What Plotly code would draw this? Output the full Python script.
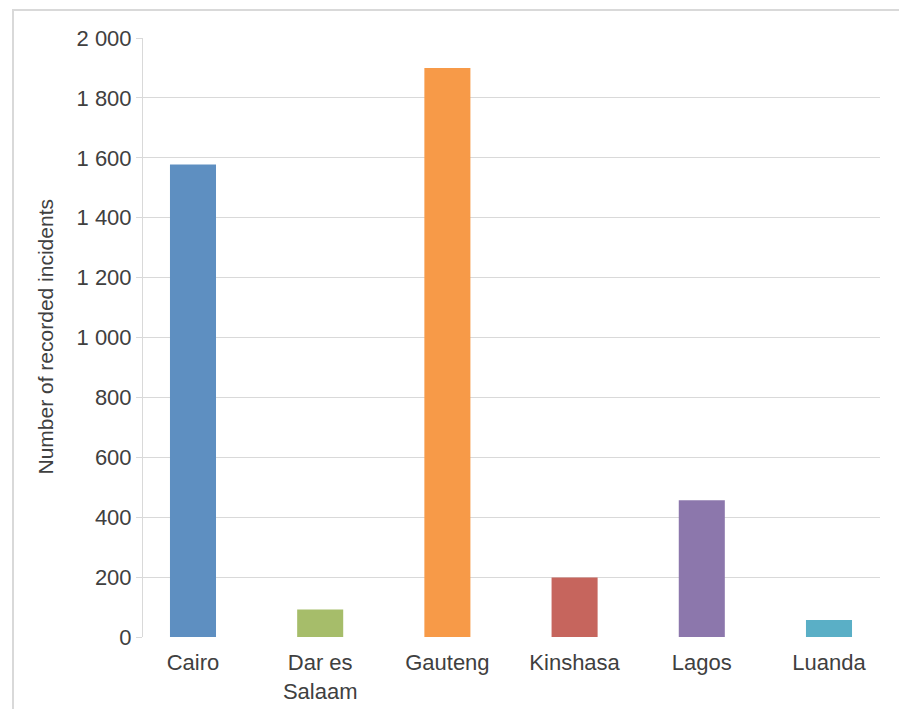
import plotly.graph_objects as go

categories = ["Cairo", "Dar es<br>Salaam", "Gauteng", "Kinshasa", "Lagos", "Luanda"]
incidents = [1578, 92, 1900, 199, 457, 57]
bar_colors = ["#5E8FC1", "#A6BD6A", "#F79A48", "#C6655D", "#8C77AC", "#5AAFC6"]
y_tick_vals = [0, 200, 400, 600, 800, 1000, 1200, 1400, 1600, 1800, 2000]
y_tick_text = ["0", "200", "400", "600", "800", "1 000", "1 200", "1 400", "1 600", "1 800", "2 000"]
y_title = "Number of recorded incidents"

# page body has an 8px margin; size the figure to fill the rest of the window
W, H = 899, 701
L, R, T, B = 135, 27, 30, 72
pw, ph = W - L - R, H - T - B

fig = go.Figure()
fig.add_trace(go.Bar(
    x=list(range(len(categories))),
    y=incidents,
    marker=dict(color=bar_colors, line=dict(width=0)),
    width=0.362,
    hoverinfo="skip",
))

font_family = "Liberation Sans, Arial, sans-serif"
fig.update_layout(
    width=W, height=H,
    margin=dict(l=L, r=R, t=T, b=B, autoexpand=False),
    paper_bgcolor="white", plot_bgcolor="white",
    showlegend=False,
    font=dict(family=font_family, color="#404040"),
    xaxis=dict(
        range=[-0.393, 5.401],
        tickvals=list(range(len(categories))),
        ticktext=categories,
        showgrid=False, zeroline=False, showline=False,
        ticks="", ticklabelstandoff=10, automargin=False,
        tickfont=dict(size=22, color="#404040"),
        fixedrange=True,
    ),
    yaxis=dict(
        range=[0, 2000],
        tickvals=y_tick_vals, ticktext=y_tick_text,
        showgrid=True, gridcolor="#D9D9D9", gridwidth=1,
        zeroline=False, automargin=False,
        showline=True, linecolor="#D9D9D9", linewidth=1,
        ticks="outside", ticklen=6, tickcolor="#D9D9D9",
        tickfont=dict(size=22, color="#404040"),
        fixedrange=True,
    ),
)

fig.add_annotation(
    text=y_title, xref="paper", yref="paper",
    x=(37 - L) / pw, y=0.5, textangle=-90,
    showarrow=False, xanchor="center", yanchor="middle",
    font=dict(size=21, color="#404040", family=font_family),
)

# outer chart border
fig.add_shape(
    type="rect", xref="paper", yref="paper",
    x0=(5 - L) / pw, x1=(896 - L) / pw,
    y0=-0.3, y1=(H - B - 2) / ph,
    line=dict(color="#D9D9D9", width=2),
    layer="below",
)

fig.write_html("out.html")
